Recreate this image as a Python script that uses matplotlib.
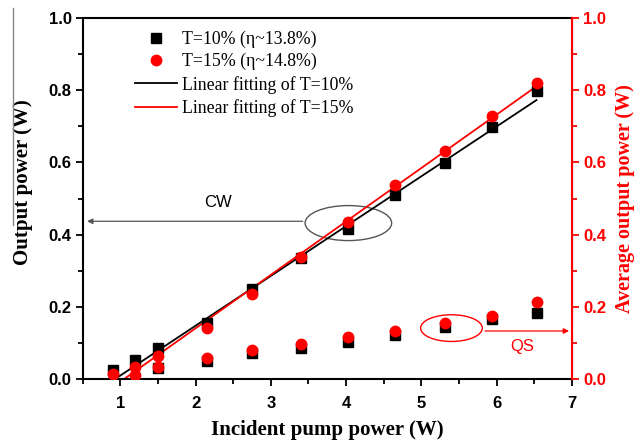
import matplotlib
matplotlib.use('Agg')
import matplotlib.pyplot as plt
import numpy as np
from matplotlib.patches import Ellipse
from matplotlib.lines import Line2D

# pump power (W)
x_cw = np.array([0.9, 1.2, 1.5, 2.15, 2.75, 3.4, 4.03, 4.65, 5.32, 5.94, 6.53])
# CW output power (W)
cw_10 = np.array([0.025, 0.053, 0.086, 0.156, 0.249, 0.335, 0.415, 0.51, 0.598, 0.698, 0.798])
cw_15 = np.array([0.013, 0.032, 0.064, 0.142, 0.235, 0.337, 0.435, 0.537, 0.632, 0.729, 0.82])
# QS average output power (W)
x_qs10 = np.array([1.5, 2.15, 2.75, 3.4, 4.03, 4.65, 5.32, 5.94, 6.53])
qs_10 = np.array([0.03, 0.05, 0.072, 0.085, 0.103, 0.121, 0.145, 0.166, 0.184])
x_qs15 = np.array([1.2, 1.5, 2.15, 2.75, 3.4, 4.03, 4.65, 5.32, 5.94, 6.53])
qs_15 = np.array([0.012, 0.033, 0.058, 0.079, 0.097, 0.116, 0.134, 0.156, 0.175, 0.213])

# linear fits (slope, threshold)
fit_10 = (0.138, 0.93)
fit_15 = (0.148, 1.05)

serif = ['Liberation Serif', 'DejaVu Serif']
sans = ['Liberation Sans', 'DejaVu Sans']

fig = plt.figure(figsize=(6.34, 4.41), dpi=100)
ax = fig.add_axes([0.1305, 0.1406, 0.7715, 0.8184])
ax2 = ax.twinx()

ax.plot(x_cw, cw_10, 's', color='black', ms=6.5, label='T=10% (η~13.8%)', zorder=3)
ax.plot(x_cw, cw_15, 'o', color='red', ms=7.5, label='T=15% (η~14.8%)', zorder=3)
xf = np.linspace(fit_10[1], 6.53, 50)
ax.plot(xf, fit_10[0]*(xf-fit_10[1]), '-', color='black', lw=1.3, label='Linear fitting of T=10%')
xf = np.linspace(fit_15[1], 6.53, 50)
ax.plot(xf, fit_15[0]*(xf-fit_15[1]), '-', color='red', lw=1.3, label='Linear fitting of T=15%')

ax.plot(x_qs10, qs_10, 's', color='black', ms=6.5, zorder=3)
ax.plot(x_qs15, qs_15, 'o', color='red', ms=7.5, zorder=3)

ax.set_xlim(0.5, 7)
ax.set_ylim(0, 1.0)
ax2.set_ylim(0, 1.0)
ax.set_xticks(np.arange(1, 8, 1))
ax.set_xticks(np.arange(0.5, 7.01, 0.5), minor=True)
ax.set_yticks(np.arange(0, 1.01, 0.2))
ax.set_yticks(np.arange(0, 1.01, 0.1), minor=True)
ax2.set_yticks(np.arange(0, 1.01, 0.2))
ax2.set_yticks(np.arange(0, 1.01, 0.1), minor=True)
ax.set_xticklabels([str(i) for i in range(1, 8)])
ax.set_yticklabels(['%.1f' % v for v in np.arange(0, 1.01, 0.2)])
ax2.set_yticklabels(['%.1f' % v for v in np.arange(0, 1.01, 0.2)])

ax.tick_params(which='major', direction='out', length=5, width=1.3, labelsize=12)
ax.tick_params(which='minor', direction='out', length=3.3, width=1.3)
ax.tick_params(axis='x', which='major', pad=7)
ax.tick_params(axis='y', which='both', right=False, pad=3)
ax2.tick_params(which='major', direction='out', length=5, width=1.3, colors='red', labelsize=12, pad=3)
ax2.tick_params(which='minor', direction='out', length=3.3, width=1.3, colors='red')
for lab in ax.get_xticklabels() + ax.get_yticklabels() + ax2.get_yticklabels():
    lab.set_fontweight('bold')
    lab.set_family(sans)

for s in ['left', 'bottom', 'top']:
    ax.spines[s].set_linewidth(1.5)
ax2.spines['right'].set_color('red')
ax2.spines['right'].set_linewidth(1.5)
ax2.spines['left'].set_visible(False)
ax2.spines['top'].set_visible(False)
ax2.spines['bottom'].set_visible(False)

ax.set_xlabel('Incident pump power (W)', family=serif, fontweight='bold', fontsize=15)
ax.xaxis.set_label_coords(0.5, -0.114)
ax.set_ylabel('Output power (W)', family=serif, fontweight='bold', fontsize=15)
ax.yaxis.set_label_coords(-0.102, 0.546)
ax2.set_ylabel('Average output power (W)', family=serif, fontweight='bold', fontsize=14.5,
               color='red', rotation=90)
ax2.yaxis.set_label_coords(1.088, 0.5)

leg = ax.legend(loc='upper left', bbox_to_anchor=(0.081, 1.0), frameon=False,
                prop={'family': serif, 'size': 12.8}, handlelength=2.4,
                labelspacing=0.3, handletextpad=0.25, borderaxespad=0.3)

# CW annotation
ax.add_patch(Ellipse((4.03, 0.432), 1.15, 0.097, fill=False, edgecolor='#555555', lw=1))
ax.annotate('', xy=(0.52, 0.437), xytext=(3.46, 0.437),
            arrowprops=dict(arrowstyle='-|>', color='#555555', lw=0.9, mutation_scale=8))
ax.text(2.3, 0.49, 'CW', family=sans, fontsize=12, ha='center', va='center')

# QS annotation
ax.add_patch(Ellipse((5.4, 0.141), 0.82, 0.074, fill=False, edgecolor='red', lw=1))
ax.annotate('', xy=(7.0, 0.133), xytext=(5.81, 0.133),
            arrowprops=dict(arrowstyle='-|>', color='red', lw=0.9, mutation_scale=8))
ax.text(6.34, 0.089, 'QS', family=sans, fontsize=12, color='red', ha='center', va='center')

# stray line at top left of the original image
fig.add_artist(Line2D([13/634, 13/634], [1-8/441, 1-225/441], color='#888888', lw=1))

fig.savefig('out.png', dpi=100)
